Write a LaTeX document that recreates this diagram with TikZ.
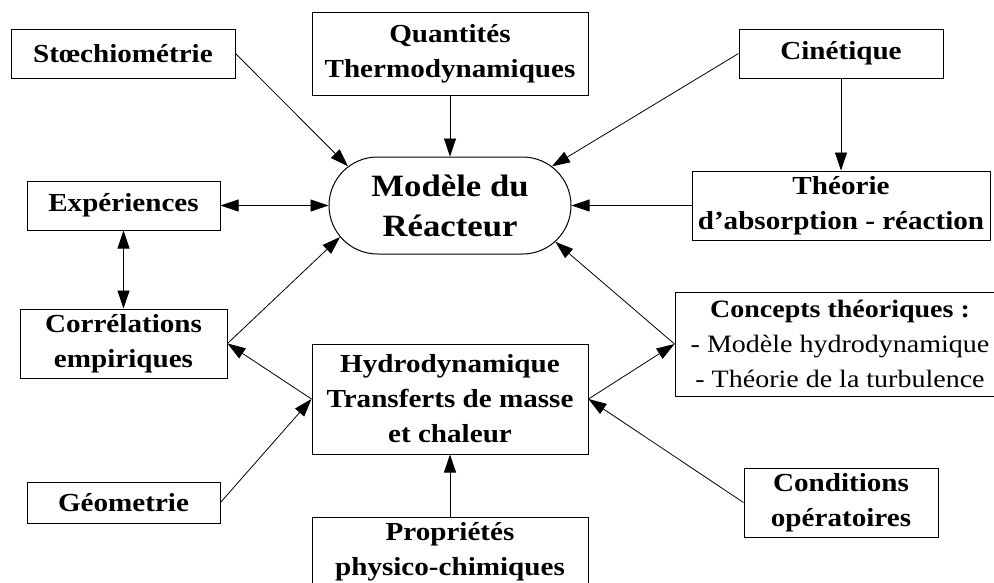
\documentclass[tikz,border=0pt]{standalone}
\usepackage{fontspec}
\setmainfont{Liberation Serif}[FakeStretch=1.12]
\usetikzlibrary{shapes.misc,arrows.meta}
\begin{document}
\begin{tikzpicture}[x=1pt,y=-1pt,
  box/.style={draw, line width=1pt, align=center, inner sep=0pt,
    font=\fontsize{26}{35}\selectfont\bfseries},
  plainbox/.style={draw, line width=1pt, align=center, inner sep=0pt,
    font=\fontsize{25}{35}\selectfont},
  modelbox/.style={draw, line width=1pt, align=center, inner sep=0pt,
    rounded rectangle, font=\fontsize{31}{40}\selectfont\bfseries},
  tip/.tip={Triangle[length=18pt,width=12pt]},
  arr/.style={-tip, line width=0.8pt},
  darr/.style={tip-tip, line width=0.8pt}]
\useasboundingbox (0,0) rectangle (994,582);

\node[box, minimum width=224pt, minimum height=49pt] (stoe) at (123,53.5) {Stœchiométrie};
\node[box, minimum width=276pt, minimum height=83pt] (quant) at (450,53.5) {Quantités\\Thermodynamiques};
\node[box, minimum width=204pt, minimum height=49pt] (cine) at (841,53.5) {Cinétique};
\node[box, minimum width=298pt, minimum height=69pt] (theo) at (841,205.5) {Théorie\\d’absorption - réaction};
\node[modelbox, minimum width=242pt, minimum height=97pt] (model) at (450,205.5) {Modèle du\\Réacteur};
\node[box, minimum width=193pt, minimum height=49pt] (exp) at (123.5,205.5) {Expériences};
\node[box, minimum width=207pt, minimum height=69pt] (corr) at (123.5,343.5) {Corrélations\\empiriques};
\node[box, minimum width=276pt, minimum height=110pt] (hydro) at (450,399) {Hydrodynamique\\Transferts de masse\\et chaleur};
\node[box, minimum width=193pt, minimum height=41pt] (geo) at (123.5,502.5) {Géometrie};
\node[box, minimum width=276pt, minimum height=69pt] (prop) at (450,551.5) {Propriétés\\physico-chimiques};
\node[plainbox, minimum width=330pt, minimum height=104pt] (conc) at (840,344) {\textbf{Concepts théoriques :}\\- Modèle hydrodynamique\\- Théorie de la turbulence};
\node[box, minimum width=194pt, minimum height=69pt] (cond) at (841,502.5) {Conditions\\opératoires};

\draw[arr] (stoe.east) -- (model.159);
\draw[arr] (quant.south) -- (model.north);
\draw[arr] (cine.west) -- (model.21);
\draw[arr] (cine.south) -- (theo.north);
\draw[arr] (theo.west) -- (model.east);
\draw[darr] (exp.east) -- (model.west);
\draw[darr] (exp.south) -- (corr.north);
\draw[arr] (corr.east) -- (model.196);
\draw[arr] (hydro.west) -- (corr.east);
\draw[arr] (geo.east) -- (hydro.west);
\draw[arr] (hydro.east) -- (conc.west);
\draw[arr] (conc.west) -- (model.341);
\draw[arr] (cond.west) -- (hydro.east);
\draw[arr] (prop.north) -- (hydro.south);
\end{tikzpicture}
\end{document}
